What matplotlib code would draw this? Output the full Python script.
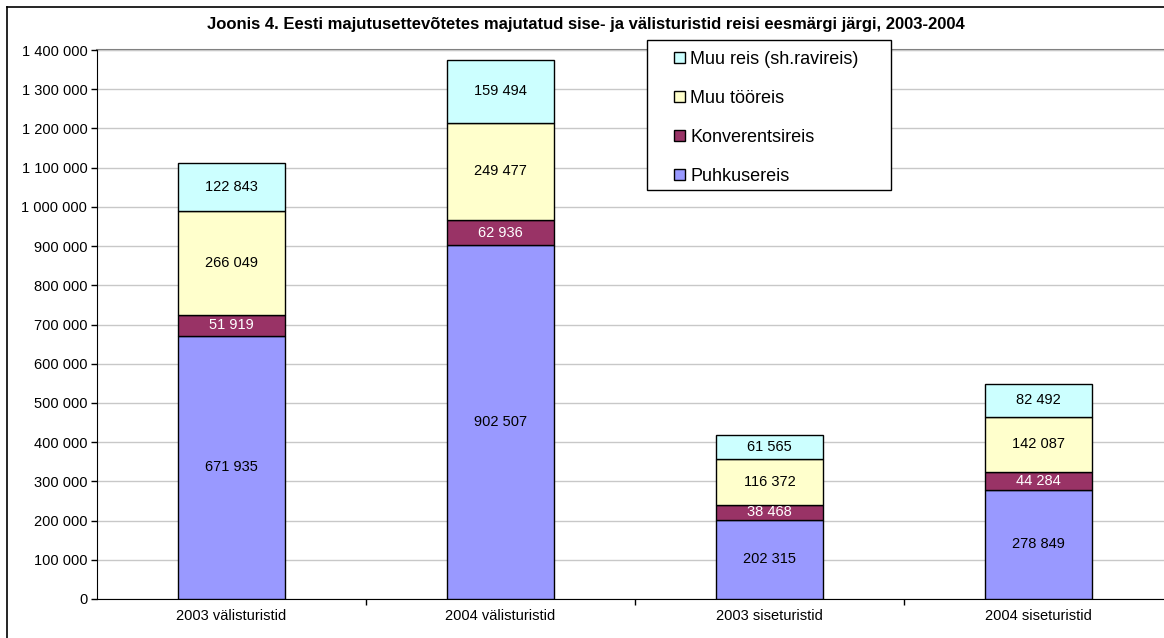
import matplotlib
matplotlib.use('Agg')
from matplotlib import pyplot as plt
from matplotlib.lines import Line2D
from matplotlib.patches import Rectangle
from matplotlib.ticker import FuncFormatter, FixedLocator
import numpy as np

plt.rcParams['font.family'] = ['Liberation Sans', 'DejaVu Sans']

groups = ['2003 välisturistid', '2004 välisturistid', '2003 siseturistid', '2004 siseturistid']
series = ['Puhkusereis', 'Konverentsireis', 'Muu tööreis', 'Muu reis (sh.ravireis)']
puhkus = [671935, 902507, 202315, 278849]
konverents = [51919, 62936, 38468, 44284]
muu_too = [266049, 249477, 116372, 142087]
muu_reis = [122843, 159494, 61565, 82492]
colors = ['#9999FF', '#993366', '#FFFFCC', '#CCFFFF']
label_colors = ['black', 'white', 'black', 'black']

W, H = 1164, 638
fig = plt.figure(figsize=(W / 100, H / 100), dpi=100)

# plot area in pixels: left 97, right 1173, top 50, bottom 599
ax = fig.add_axes([97 / W, 1 - 599 / H, (1173 - 97) / W, (599 - 50) / H])

x = np.arange(len(groups))
bottom = np.zeros(len(groups))
handles = []
for vals, name, c, lc in zip([puhkus, konverents, muu_too, muu_reis], series, colors, label_colors):
    bars = ax.bar(x, vals, width=0.4, bottom=bottom, color=c, edgecolor='black', linewidth=1,
                  label=name, zorder=3)
    for xi, b, v in zip(x, bottom, vals):
        ax.text(xi, b + v / 2, '{:,}'.format(v).replace(',', ' '), ha='center', va='center',
                fontsize=10.5, color=lc, zorder=4)
    bottom = bottom + np.array(vals)
    handles.append(bars)

ax.set_xlim(-0.5, 3.5)
ax.set_ylim(0, 1400000)
ax.set_yticks(np.arange(0, 1400001, 100000))
ax.yaxis.set_major_formatter(FuncFormatter(lambda v, p: '{:,}'.format(int(v)).replace(',', ' ')))
ax.set_xticks(x)
ax.set_xticklabels(groups)
ax.xaxis.set_minor_locator(FixedLocator([0.5, 1.5, 2.5]))
ax.tick_params(axis='x', which='major', length=0, pad=7, labelsize=10.5)
ax.tick_params(axis='x', which='minor', length=4, width=1, direction='out')
ax.tick_params(axis='y', length=4, width=1, direction='out', labelsize=10.5, pad=3)
ax.grid(axis='y', color='#c8c8c8', linewidth=1, zorder=0)

for s in ['top', 'right']:
    ax.spines[s].set_visible(False)
ax.spines['left'].set_color('black')
ax.spines['bottom'].set_color('black')
ax.axhline(1400000, color='#808080', linewidth=1.5, zorder=1, clip_on=False)

# legend frame drawn separately (box 647..891 x 40..190 px)
fig.add_artist(Rectangle((647 / W, 1 - 190 / H), (891 - 647) / W, (190 - 40) / H,
                         transform=fig.transFigure, facecolor='white', edgecolor='black',
                         linewidth=1, zorder=9))
h = handles[::-1]
leg = fig.legend(h, [b.get_label() for b in h], loc='upper left',
                 bbox_to_anchor=(674 / W, 1 - 51 / H), bbox_transform=fig.transFigure,
                 fontsize=13, frameon=False,
                 handlelength=0.6, handleheight=0.6, handletextpad=0.3,
                 labelspacing=1.22, borderpad=0, borderaxespad=0)
leg.set_zorder(10)

fig.text(586 / W, 1 - 24 / H,
         'Joonis 4. Eesti majutusettevõtetes majutatud sise- ja välisturistid reisi eesmärgi järgi, 2003-2004',
         ha='center', va='center', fontsize=12, fontweight='bold')

# outer chart border (cropped on right and bottom)
fig.add_artist(Line2D([7 / W, 7 / W], [0, 1 - 7 / H], color='black', linewidth=1.2,
                      transform=fig.transFigure))
fig.add_artist(Line2D([7 / W, 1], [1 - 7 / H, 1 - 7 / H], color='black', linewidth=1.2,
                      transform=fig.transFigure))

fig.savefig('out.png', dpi=100)
